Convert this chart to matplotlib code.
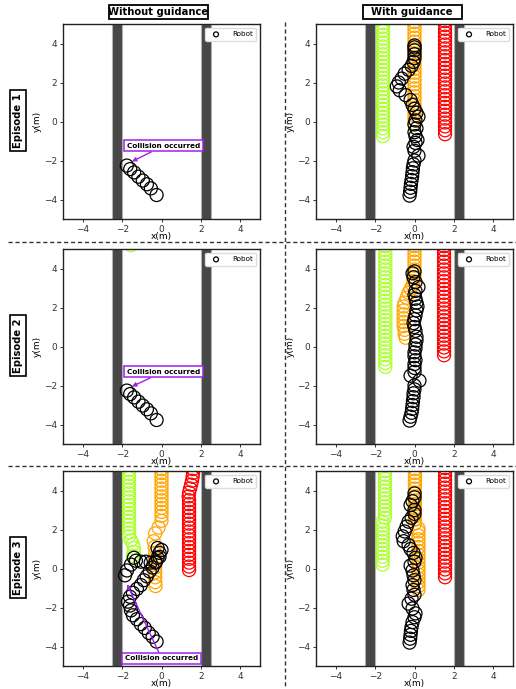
import matplotlib
matplotlib.use('Agg')
import matplotlib.pyplot as plt
from matplotlib.lines import Line2D
from matplotlib.patches import Rectangle

# ---------------- data (metres) ----------------
walls = [(-2.5, -2.0), (2.0, 2.5)]

# episode 1 / 2 without guidance: robot collides with left wall
ep1_nog_robot_x = [-1.76, -1.59, -1.39, -1.17, -0.95, -0.74, -0.54, -0.25]
ep1_nog_robot_y = [-2.26, -2.44, -2.61, -2.83, -3.03, -3.22, -3.43, -3.77]
ep2_nog_robot_x = [-1.76, -1.59, -1.39, -1.17, -0.95, -0.74, -0.54, -0.25]
ep2_nog_robot_y = [-2.26, -2.44, -2.61, -2.83, -3.03, -3.22, -3.43, -3.77]
ep2_nog_green_x = [-1.55]
ep2_nog_green_y = [5.2]

# episode 3 without guidance
ep3_nog_robot_x = [-0.25, -0.45, -0.65, -0.85, -1.05, -1.25, -1.45, -1.55, -1.6, -1.7, -1.6,
                   -1.45, -1.25, -1.05, -0.9, -0.75, -0.6, -0.45, -0.3, -0.2, -0.1, -0.2,
                   0.0, -0.1, -0.3, -0.55, -0.8, -1.05, -1.3, -1.4, -1.55, -1.75, -1.85]
ep3_nog_robot_y = [-3.75, -3.5, -3.3, -3.05, -2.85, -2.6, -2.4, -2.15, -1.9, -1.7, -1.45,
                   -1.25, -1.05, -0.85, -0.6, -0.4, -0.15, 0.05, 0.3, 0.55, 0.8, 1.05,
                   0.95, 0.6, 0.35, 0.3, 0.35, 0.35, 0.4, 0.55, 0.2, -0.1, -0.35]
ep3_nog_green_x = [-1.65, -1.65, -1.65, -1.65, -1.65, -1.65, -1.65, -1.65, -1.65, -1.65,
                   -1.65, -1.65, -1.65, -1.65, -1.65, -1.65, -1.65, -1.65,
                   -1.55, -1.45, -1.4, -1.4, -1.45]
ep3_nog_green_y = [5.05, 4.85, 4.65, 4.45, 4.25, 4.05, 3.85, 3.65, 3.45, 3.25,
                   3.05, 2.85, 2.65, 2.45, 2.25, 2.05, 1.85, 1.65,
                   1.45, 1.25, 1.05, 0.85, 0.65]
ep3_nog_orange_x = [0.0, 0.0, 0.0, 0.0, 0.0, 0.0, 0.0, 0.0, 0.0, 0.0, 0.0, 0.0, 0.0, 0.0,
                    -0.15, -0.32, -0.4, -0.35, -0.32, -0.32, -0.32, -0.32, -0.32, -0.32,
                    -0.32, -0.3]
ep3_nog_orange_y = [5.1, 4.9, 4.7, 4.5, 4.3, 4.1, 3.9, 3.7, 3.5, 3.3, 3.1, 2.9, 2.7, 2.45,
                    2.1, 1.8, 1.4, 1.1, 0.8, 0.55, 0.3, 0.05, -0.2, -0.45, -0.7, -0.9]
ep3_nog_red_x = [1.6, 1.6, 1.58, 1.55, 1.5, 1.45, 1.4, 1.38, 1.4, 1.4, 1.4, 1.4, 1.4, 1.4,
                 1.4, 1.4, 1.4, 1.4, 1.4, 1.4, 1.4, 1.4, 1.4, 1.4, 1.4, 1.4, 1.4]
ep3_nog_red_y = [5.1, 4.9, 4.7, 4.5, 4.3, 4.1, 3.9, 3.7, 3.5, 3.3, 3.1, 2.9, 2.7, 2.5,
                 2.3, 2.1, 1.9, 1.7, 1.5, 1.3, 1.1, 0.9, 0.7, 0.5, 0.3, 0.1, -0.08]

# episode 1 with guidance
ep1_g_green_y = [-0.75, -0.55, -0.35, -0.15, 0.05, 0.25, 0.45, 0.65, 0.85, 1.05, 1.25, 1.45,
                 1.65, 1.85, 2.05, 2.25, 2.45, 2.65, 2.85, 3.05, 3.25, 3.45, 3.65, 3.85,
                 4.05, 4.25, 4.45, 4.65, 4.85, 5.05]
ep1_g_green_x = [-1.6] * len(ep1_g_green_y)
ep1_g_orange_y = [-0.1, 0.1, 0.3, 0.5, 0.7, 0.9, 1.1, 1.3, 1.5, 1.7, 1.9, 2.1, 2.3, 2.5,
                  2.7, 2.9, 3.1, 3.3, 3.5, 3.7, 3.9, 4.1, 4.3, 4.5, 4.7, 4.9, 5.1]
ep1_g_orange_x = [0.0] * len(ep1_g_orange_y)
ep1_g_red_y = [-0.65, -0.45, -0.25, -0.05, 0.15, 0.35, 0.55, 0.75, 0.95, 1.15, 1.35, 1.55,
               1.75, 1.95, 2.15, 2.35, 2.55, 2.75, 2.95, 3.15, 3.35, 3.55, 3.75, 3.95,
               4.15, 4.35, 4.55, 4.75, 4.95, 5.15]
ep1_g_red_x = [1.55] * len(ep1_g_red_y)
ep1_g_robot_x = [-0.25, -0.22, -0.2, -0.18, -0.15, -0.12, -0.1, -0.08, -0.05, 0.0, 0.2, 0.0,
                 -0.05, 0.05, 0.15, 0.05, 0.0, 0.1, 0.0, 0.05, 0.2, 0.1, 0.0, -0.1, -0.2,
                 -0.45, -0.75, -0.9, -0.8, -0.65, -0.5, -0.3, -0.15, -0.05, 0.0, 0.0, 0.0, 0.0,
                 0.0]
ep1_g_robot_y = [-3.8, -3.6, -3.4, -3.2, -3.0, -2.8, -2.6, -2.4, -2.2, -2.0, -1.75, -1.5,
                 -1.3, -1.1, -0.95, -0.75, -0.55, -0.35, -0.15, 0.05, 0.25, 0.45, 0.65, 0.85,
                 1.1, 1.35, 1.6, 1.8, 2.0, 2.2, 2.45, 2.65, 2.85, 3.05, 3.25, 3.45, 3.65, 3.8,
                 3.9]

# episode 2 with guidance
ep2_g_green_y = [-1.05, -0.85, -0.65, -0.45, -0.25, -0.05, 0.15, 0.35, 0.55, 0.75, 0.95,
                 1.15, 1.35, 1.55, 1.75, 1.95, 2.15, 2.35, 2.55, 2.75, 2.95, 3.15, 3.35,
                 3.55, 3.75, 3.95, 4.15, 4.35, 4.55, 4.75, 4.95, 5.15]
ep2_g_green_x = [-1.48] * len(ep2_g_green_y)
ep2_g_orange_x = [-0.45, -0.5, -0.5, -0.55, -0.55, -0.55, -0.55, -0.55, -0.55, -0.5, -0.4,
                  -0.3, -0.2, -0.1, -0.05, 0.0, 0.0, 0.0, 0.0, 0.0, 0.0, 0.0, 0.0, 0.0]
ep2_g_orange_y = [0.45, 0.65, 0.85, 1.05, 1.25, 1.45, 1.65, 1.85, 2.05, 2.25, 2.5, 2.75,
                  2.95, 3.15, 3.35, 3.55, 3.75, 3.95, 4.15, 4.35, 4.55, 4.75, 4.95, 5.15]
ep2_g_red_y = [-0.45, -0.25, -0.05, 0.15, 0.35, 0.55, 0.75, 0.95, 1.15, 1.35, 1.55, 1.75,
               1.95, 2.15, 2.35, 2.55, 2.75, 2.95, 3.15, 3.35, 3.55, 3.75, 3.95, 4.15,
               4.35, 4.55, 4.75, 4.95, 5.15]
ep2_g_red_x = [1.5] * len(ep2_g_red_y)
ep2_g_robot_x = [-0.25, -0.2, -0.15, -0.12, -0.1, -0.08, -0.05, -0.05, 0.0, 0.0, 0.25, -0.2,
                 0.0, 0.0, 0.0, 0.05, 0.0, 0.0, 0.05, 0.05, 0.1, 0.1, 0.05, 0.0, -0.05, 0.0,
                 0.05, 0.1, 0.15, 0.1, 0.05, 0.0, 0.05, 0.2, 0.05, -0.05, -0.1, 0.0]
ep2_g_robot_y = [-3.8, -3.6, -3.4, -3.2, -3.0, -2.8, -2.6, -2.4, -2.2, -2.0, -1.75, -1.5,
                 -1.3, -1.1, -0.9, -0.7, -0.5, -0.3, -0.1, 0.1, 0.3, 0.5, 0.8, 1.0, 1.2,
                 1.4, 1.6, 1.85, 2.05, 2.25, 2.45, 2.65, 2.85, 3.05, 3.3, 3.55, 3.75, 3.85]

# episode 3 with guidance
ep3_g_green_x = [-1.62] * 12 + [-1.5] * 13
ep3_g_green_y = [0.2, 0.4, 0.6, 0.8, 1.0, 1.2, 1.4, 1.6, 1.8, 2.0, 2.2, 2.4,
                 2.6, 2.8, 3.0, 3.2, 3.4, 3.6, 3.8, 4.0, 4.2, 4.4, 4.6, 4.8, 5.0]
ep3_g_orange_x = [0.2] * 17 + [0.02] * 15
ep3_g_orange_y = [-1.1, -0.9, -0.7, -0.5, -0.3, -0.1, 0.1, 0.3, 0.5, 0.7, 0.9, 1.1, 1.3,
                  1.5, 1.7, 1.9, 2.05, 2.3, 2.5, 2.7, 2.9, 3.1, 3.3, 3.5, 3.7, 3.9, 4.1,
                  4.3, 4.5, 4.7, 4.9, 5.1]
ep3_g_red_y = [-0.45, -0.25, -0.05, 0.15, 0.35, 0.55, 0.75, 0.95, 1.15, 1.35, 1.55, 1.75,
               1.95, 2.15, 2.35, 2.55, 2.75, 2.95, 3.15, 3.35, 3.55, 3.75, 3.95, 4.15,
               4.35, 4.55, 4.75, 4.95, 5.15]
ep3_g_red_x = [1.55] * len(ep3_g_red_y)
ep3_g_robot_x = [-0.25, -0.22, -0.2, -0.18, -0.15, -0.1, 0.0, 0.05, -0.1, -0.3, -0.15, 0.0,
                 -0.05, -0.1, 0.0, -0.05, -0.1, -0.2, 0.0, 0.05, -0.05, -0.2, -0.3, -0.55,
                 -0.6, -0.5, -0.4, -0.3, -0.15, 0.0, 0.0, -0.2, -0.1, 0.0, 0.0]
ep3_g_robot_y = [-3.8, -3.6, -3.4, -3.2, -3.0, -2.75, -2.5, -2.3, -2.05, -1.8, -1.55, -1.35,
                 -1.1, -0.85, -0.6, -0.35, -0.1, 0.15, 0.35, 0.55, 0.8, 1.0, 1.2, 1.4,
                 1.65, 1.9, 2.15, 2.4, 2.6, 2.8, 3.0, 3.25, 3.45, 3.65, 3.85]

col_titles = ['Without guidance', 'With guidance']
row_titles = ['Episode 1', 'Episode 2', 'Episode 3']
ticks = [-4, -2, 0, 2, 4]

GREEN = '#adff2f'
ORANGE = 'orange'
RED = 'red'
PURPLE = '#a020f0'

panels = [
    # (robot, humans, collision (text_xy, arrow_tip))
    [((ep1_nog_robot_x, ep1_nog_robot_y), [], ((0.1, -1.25), (-1.5, -2.05))),
     ((ep1_g_robot_x, ep1_g_robot_y),
      [(ep1_g_green_x, ep1_g_green_y, GREEN), (ep1_g_orange_x, ep1_g_orange_y, ORANGE),
       (ep1_g_red_x, ep1_g_red_y, RED)], None)],
    [((ep2_nog_robot_x, ep2_nog_robot_y), [(ep2_nog_green_x, ep2_nog_green_y, GREEN)],
      ((0.1, -1.3), (-1.5, -2.05))),
     ((ep2_g_robot_x, ep2_g_robot_y),
      [(ep2_g_green_x, ep2_g_green_y, GREEN), (ep2_g_orange_x, ep2_g_orange_y, ORANGE),
       (ep2_g_red_x, ep2_g_red_y, RED)], None)],
    [((ep3_nog_robot_x, ep3_nog_robot_y),
      [(ep3_nog_green_x, ep3_nog_green_y, GREEN), (ep3_nog_orange_x, ep3_nog_orange_y, ORANGE),
       (ep3_nog_red_x, ep3_nog_red_y, RED)], ((0.0, -4.6), (-1.75, -0.8))),
     ((ep3_g_robot_x, ep3_g_robot_y),
      [(ep3_g_green_x, ep3_g_green_y, GREEN), (ep3_g_orange_x, ep3_g_orange_y, ORANGE),
       (ep3_g_red_x, ep3_g_red_y, RED)], None)],
]

W, H = 516, 689
fig = plt.figure(figsize=(W / 100, H / 100), dpi=100)

col_left = [63, 316]
row_top = [24, 249, 471]
aw, ah = 197, 195
ms = 88  # marker area (pt^2), ~0.3 m radius

for r in range(3):
    for c in range(2):
        ax = fig.add_axes([col_left[c] / W, 1 - (row_top[r] + ah) / H, aw / W, ah / H])
        robot, humans, coll = panels[r][c]
        for (x0, x1) in walls:
            ax.axvspan(x0, x1, facecolor='#474747', edgecolor='#b0b0b0', lw=0.8, zorder=1)
        for hx, hy, col in humans:
            ax.scatter(hx, hy, s=ms, facecolors='none', edgecolors=col, linewidths=0.9,
                       zorder=2, clip_on=True)
        ax.scatter(robot[0], robot[1], s=ms, facecolors='none', edgecolors='black',
                   linewidths=0.9, zorder=3, label='Robot')
        if coll is not None:
            (tx, ty), (ax_, ay_) = coll
            ax.annotate('Collision occurred', xy=(ax_, ay_), xytext=(tx, ty),
                        fontsize=5.2, fontweight='bold', ha='center', va='center',
                        bbox=dict(boxstyle='square,pad=0.35', fc='white', ec=PURPLE, lw=1.1),
                        arrowprops=dict(arrowstyle='-|>', color=PURPLE, lw=1.0,
                                        mutation_scale=6, shrinkA=0, shrinkB=0),
                        zorder=5)
        ax.set_xlim(-5, 5)
        ax.set_ylim(-5, 5)
        ax.set_xticks(ticks)
        ax.set_yticks(ticks)
        ax.tick_params(labelsize=6.5, length=2.5, width=0.7, pad=1.5, colors='#333333')
        ax.set_xlabel('x(m)', fontsize=6.5, labelpad=-1.0)
        ax.set_ylabel('y(m)', fontsize=6.5, labelpad=2)
        for sp in ax.spines.values():
            sp.set_linewidth(1.0)
            sp.set_color('#222222')
        ax.legend(loc='upper right', fontsize=5.2, markerscale=0.38, handletextpad=1.2,
                  borderpad=0.5, framealpha=1, edgecolor='#dddddd', fancybox=True)

# column titles in fixed-size boxes
for c, t in enumerate(col_titles):
    cx = [158, 412][c]
    fig.add_artist(Rectangle(((cx - 49.5) / W, 1 - 19 / H), 99 / W, 14 / H,
                             transform=fig.transFigure, fc='white', ec='black', lw=1.3))
    fig.text(cx / W, 1 - 12 / H, t, ha='center', va='center', fontsize=7.2,
             fontweight='bold')

# row titles
for r, t in enumerate(row_titles):
    cy = row_top[r] + ah / 2 - 1
    fig.text(18 / W, 1 - cy / H, t, rotation=90, ha='center', va='center', fontsize=7.2,
             fontweight='bold',
             bbox=dict(boxstyle='square,pad=0.3', fc='white', ec='black', lw=1.2))

# dashed separators
for yy in [242, 466]:
    fig.add_artist(Line2D([8 / W, 516 / W], [1 - yy / H, 1 - yy / H], color='#333333',
                          lw=1.0, ls=(0, (3, 2)), transform=fig.transFigure))
fig.add_artist(Line2D([284.5 / W, 284.5 / W], [1 - 22 / H, 0], color='#333333', lw=1.0,
                      ls=(0, (3, 2)), transform=fig.transFigure))

fig.savefig('out.png', dpi=100)
